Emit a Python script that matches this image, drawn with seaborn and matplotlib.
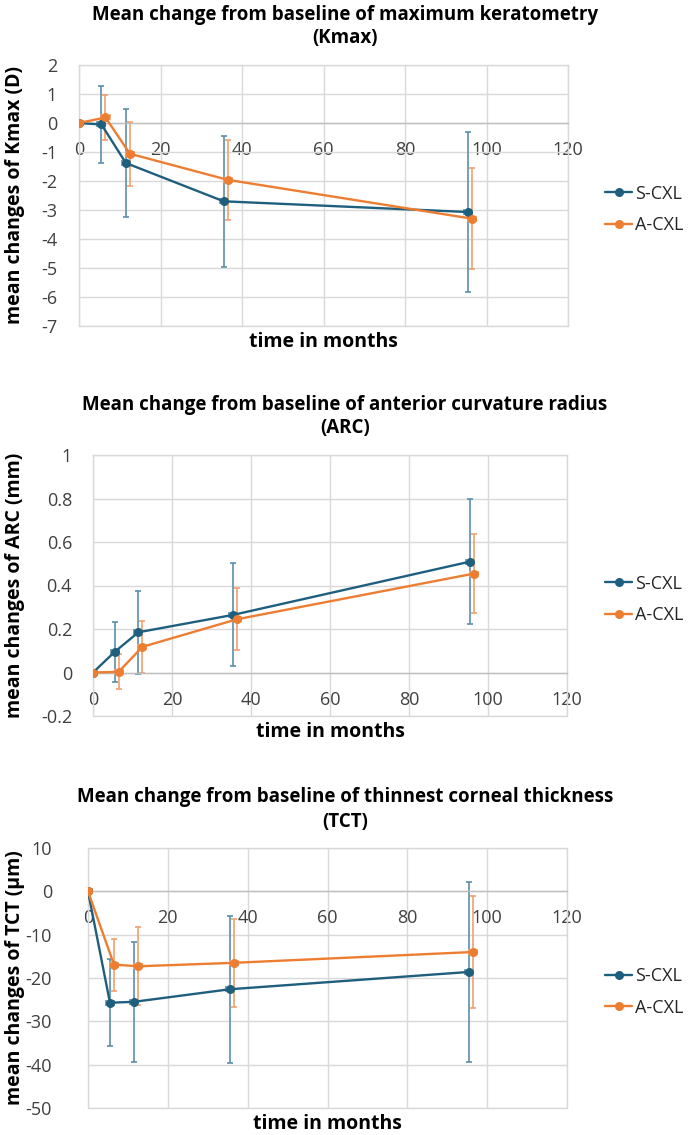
import matplotlib
matplotlib.use("Agg")
import matplotlib.pyplot as plt
import pandas as pd
import seaborn as sns

# groups and follow-up times (months)
groups = ["S-CXL", "A-CXL"]
months_s = [0, 5.5, 11.5, 35.5, 95.5]
months_a = [0, 6.5, 12.5, 36.5, 96.5]
month_err = [1, 1, 1, 1, 1]

# Kmax (D)
kmax_s = [0, -0.05, -1.38, -2.70, -3.07]
kmax_s_sd = [0, 1.33, 1.85, 2.26, 2.75]
kmax_a = [0, 0.19, -1.06, -1.96, -3.30]
kmax_a_sd = [0, 0.79, 1.10, 1.37, 1.74]

# ARC (mm)
arc_s = [0, 0.095, 0.185, 0.265, 0.51]
arc_s_sd = [0, 0.138, 0.19, 0.237, 0.287]
arc_a = [0, 0.003, 0.118, 0.245, 0.455]
arc_a_sd = [0, 0.08, 0.118, 0.143, 0.18]

# TCT (um)
tct_s = [0, -25.7, -25.5, -22.6, -18.6]
tct_s_sd = [0, 10.1, 13.9, 16.9, 20.7]
tct_a = [0, -16.9, -17.3, -16.5, -14.0]
tct_a_sd = [0, 6.0, 9.0, 10.2, 13.0]

colors = {"S-CXL": "#1F5F7E", "A-CXL": "#ED7D31"}
err_colors = {"S-CXL": "#5B8FAA", "A-CXL": "#F2A06E"}
grid_color = "#D9D9D9"

sns.set_theme(style="white")
plt.rcParams["font.family"] = ["Open Sans", "DejaVu Sans"]
plt.rcParams["axes.unicode_minus"] = False

W, H = 690, 1135
fig = plt.figure(figsize=(W / 100, H / 100), dpi=100)

panels = [
    dict(title=("Mean change from baseline of maximum keratometry", "(Kmax)"),
         ylabel="mean changes of Kmax (D)",
         s=(kmax_s, kmax_s_sd), a=(kmax_a, kmax_a_sd),
         ylim=(-7, 2), yticks=[-7, -6, -5, -4, -3, -2, -1, 0, 1, 2],
         box=(79, 65, 568, 326), title_y=(15, 38), ypad=22),
    dict(title=("Mean change from baseline of anterior curvature radius", "(ARC)"),
         ylabel="mean changes of ARC (mm)",
         s=(arc_s, arc_s_sd), a=(arc_a, arc_a_sd),
         ylim=(-0.2, 1), yticks=[-0.2, 0, 0.2, 0.4, 0.6, 0.8, 1],
         box=(93, 455, 567, 716), title_y=(405, 428), ypad=21),
    dict(title=("Mean change from baseline of thinnest corneal thickness", "(TCT)"),
         ylabel="mean changes of TCT (\u03bcm)",
         s=(tct_s, tct_s_sd), a=(tct_a, tct_a_sd),
         ylim=(-50, 10), yticks=[-50, -40, -30, -20, -10, 0, 10],
         box=(88, 848, 567, 1108), title_y=(797, 822), ypad=36),
]

for p in panels:
    x0, y0, x1, y1 = p["box"]
    ax = fig.add_axes([x0 / W, 1 - y1 / H, (x1 - x0) / W, (y1 - y0) / H])

    df = pd.concat([
        pd.DataFrame({"month": months_s, "value": p["s"][0], "group": "S-CXL"}),
        pd.DataFrame({"month": months_a, "value": p["a"][0], "group": "A-CXL"}),
    ])

    for g, mx, (vals, sd) in [("S-CXL", months_s, p["s"]), ("A-CXL", months_a, p["a"])]:
        ax.errorbar(mx, vals, yerr=sd, xerr=month_err, fmt="none",
                    ecolor=err_colors[g], elinewidth=1.2, capsize=2.5,
                    capthick=1.2, zorder=2)

    sns.lineplot(data=df, x="month", y="value", hue="group", hue_order=groups,
                 palette=colors, marker="o", markersize=6.5, markeredgewidth=0,
                 linewidth=1.7, sort=False, ax=ax, zorder=3)

    ax.set_xlim(0, 120)
    ax.set_ylim(*p["ylim"])
    ax.set_xticks([0, 20, 40, 60, 80, 100, 120])
    ax.set_yticks(p["yticks"])
    ax.set_yticklabels([f"{v:g}" for v in p["yticks"]])
    ax.grid(True, color=grid_color, linewidth=1)
    ax.set_axisbelow(True)

    for side in ["left", "top", "right"]:
        ax.spines[side].set_color(grid_color)
        ax.spines[side].set_linewidth(1)
    ax.spines["bottom"].set_position(("data", 0))
    ax.spines["bottom"].set_color("#BFBFBF")
    ax.spines["bottom"].set_linewidth(1)
    ax.axhline(p["ylim"][0], color=grid_color, linewidth=1, clip_on=False, zorder=1)

    ax.tick_params(axis="x", length=0, pad=13, labelsize=13, labelcolor="#404040")
    ax.tick_params(axis="y", length=0, pad=p["ypad"] * 0.72, labelsize=13,
                   labelcolor="#404040")

    ax.set_xlabel("time in months", fontsize=14, fontweight="bold", color="black")
    ax.xaxis.set_label_coords(0.5, -0.022)
    ax.set_ylabel(p["ylabel"], fontsize=14, fontweight="bold", color="black")
    ax.yaxis.set_label_coords((25 - x0) / (x1 - x0), 0.5)

    for line, ty in zip(p["title"], p["title_y"]):
        fig.text(0.5, 1 - ty / H, line, ha="center", va="center",
                 fontsize=13.5, fontweight="bold", color="black")

    handles, labels = ax.get_legend_handles_labels()
    ax.legend(handles, labels, loc="center left",
              bbox_to_anchor=((605 - x0) / (x1 - x0), 0.447),
              frameon=False, fontsize=13, handlelength=1.5, handletextpad=0.15,
              labelspacing=0.75, borderpad=0, borderaxespad=0)

fig.savefig("out.png", dpi=100)
